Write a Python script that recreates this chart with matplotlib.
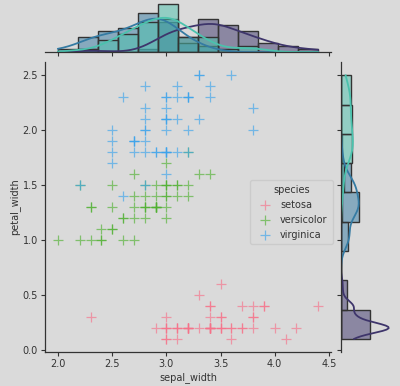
import numpy as np
import matplotlib
matplotlib.use("Agg")
import matplotlib.pyplot as plt
import seaborn as sns

# iris: sepal_width / petal_width per species
setosa_sw = [3.5, 3.0, 3.2, 3.1, 3.6, 3.9, 3.4, 3.4, 2.9, 3.1, 3.7, 3.4, 3.0, 3.0, 4.0, 4.4, 3.9,
             3.5, 3.8, 3.8, 3.4, 3.7, 3.6, 3.3, 3.4, 3.0, 3.4, 3.5, 3.4, 3.2, 3.1, 3.4, 4.1, 4.2,
             3.1, 3.2, 3.5, 3.6, 3.0, 3.4, 3.5, 2.3, 3.2, 3.5, 3.8, 3.0, 3.8, 3.2, 3.7, 3.3]
setosa_pw = [0.2, 0.2, 0.2, 0.2, 0.2, 0.4, 0.3, 0.2, 0.2, 0.1, 0.2, 0.2, 0.1, 0.1, 0.2, 0.4, 0.4,
             0.3, 0.3, 0.3, 0.2, 0.4, 0.2, 0.5, 0.2, 0.2, 0.4, 0.2, 0.2, 0.2, 0.2, 0.4, 0.1, 0.2,
             0.2, 0.2, 0.2, 0.1, 0.2, 0.2, 0.3, 0.3, 0.2, 0.6, 0.4, 0.3, 0.2, 0.2, 0.2, 0.2]
versicolor_sw = [3.2, 3.2, 3.1, 2.3, 2.8, 2.8, 3.3, 2.4, 2.9, 2.7, 2.0, 3.0, 2.2, 2.9, 2.9, 3.1, 3.0,
                 2.7, 2.2, 2.5, 3.2, 2.8, 2.5, 2.8, 2.9, 3.0, 2.8, 3.0, 2.9, 2.6, 2.4, 2.4, 2.7, 2.7,
                 3.0, 3.4, 3.1, 2.3, 3.0, 2.5, 2.6, 3.0, 2.6, 2.3, 2.7, 3.0, 2.9, 2.9, 2.5, 2.8]
versicolor_pw = [1.4, 1.5, 1.5, 1.3, 1.5, 1.3, 1.6, 1.0, 1.3, 1.4, 1.0, 1.5, 1.0, 1.4, 1.3, 1.4, 1.5,
                 1.0, 1.5, 1.1, 1.8, 1.3, 1.5, 1.2, 1.3, 1.4, 1.4, 1.7, 1.5, 1.0, 1.1, 1.0, 1.2, 1.6,
                 1.5, 1.6, 1.5, 1.3, 1.3, 1.3, 1.2, 1.4, 1.2, 1.0, 1.3, 1.2, 1.3, 1.3, 1.1, 1.3]
virginica_sw = [3.3, 2.7, 3.0, 2.9, 3.0, 3.0, 2.5, 2.9, 2.5, 3.6, 3.2, 2.7, 3.0, 2.5, 2.8, 3.2, 3.0,
                3.8, 2.6, 2.2, 3.2, 2.8, 2.8, 2.7, 3.3, 3.2, 2.8, 3.0, 2.8, 3.0, 2.8, 3.8, 2.8, 2.8,
                2.6, 3.0, 3.4, 3.1, 3.0, 3.1, 3.1, 3.1, 2.7, 3.2, 3.3, 3.0, 2.5, 3.0, 3.4, 3.0]
virginica_pw = [2.5, 1.9, 2.1, 1.8, 2.2, 2.1, 1.7, 1.8, 1.8, 2.5, 2.0, 1.9, 2.1, 2.0, 2.4, 2.3, 1.8,
                2.2, 2.3, 1.5, 2.3, 2.0, 2.0, 1.8, 2.1, 1.8, 1.8, 1.8, 2.1, 1.6, 1.9, 2.0, 2.2, 1.5,
                1.4, 2.3, 2.4, 1.8, 1.8, 2.1, 2.4, 2.3, 1.9, 2.3, 2.5, 2.3, 1.9, 2.0, 2.3, 1.8]

species = ["setosa", "versicolor", "virginica"]
sw = [np.array(setosa_sw), np.array(versicolor_sw), np.array(virginica_sw)]
pw = [np.array(setosa_pw), np.array(versicolor_pw), np.array(virginica_pw)]

bg = "#dadada"
ink = "#333333"
plt.rcParams.update({
    "figure.facecolor": bg, "axes.facecolor": bg, "axes.edgecolor": ink,
    "text.color": ink, "axes.labelcolor": ink, "xtick.color": ink, "ytick.color": ink,
    "font.size": 7, "axes.linewidth": 0.9,
    "xtick.major.size": 3, "ytick.major.size": 3,
    "xtick.major.pad": 2, "ytick.major.pad": 2, "axes.labelpad": 2,
})

scatter_cols = sns.color_palette("husl", 3)
hist_cols = sns.color_palette("mako", 3)

fig = plt.figure(figsize=(4, 3.86), dpi=100)
ax = fig.add_axes([0.1125, 0.088, 0.715, 0.751])
ax_x = fig.add_axes([0.1125, 0.865, 0.715, 0.13], sharex=ax)
ax_y = fig.add_axes([0.8525, 0.088, 0.1425, 0.751], sharey=ax)

for name, x, y, c in zip(species, sw, pw, scatter_cols):
    ax.scatter(x, y, marker="+", s=55, color=c, alpha=0.65, linewidths=0.9, label=name)

all_sw = np.concatenate(sw)
all_pw = np.concatenate(pw)
bins_x = np.histogram_bin_edges(all_sw, bins="auto")
bins_y = np.histogram_bin_edges(all_pw, bins="auto")


def kde(data, grid):
    bw = np.std(data, ddof=1) * len(data) ** (-1 / 5)
    z = (grid[:, None] - data[None, :]) / bw
    return np.exp(-0.5 * z ** 2).sum(axis=1) / (len(data) * bw * np.sqrt(2 * np.pi))


gx = np.linspace(all_sw.min(), all_sw.max(), 200)
gy = np.linspace(all_pw.min(), all_pw.max(), 200)
wx = bins_x[1] - bins_x[0]
wy = bins_y[1] - bins_y[0]
for x, y, c in zip(sw, pw, hist_cols):
    ax_x.hist(x, bins=bins_x, facecolor=(*c, 0.5), edgecolor=ink, linewidth=1)
    ax_x.plot(gx, kde(x, gx) * len(x) * wx, color=c, lw=1.3)
    ax_y.hist(y, bins=bins_y, orientation="horizontal", facecolor=(*c, 0.5), edgecolor=ink, linewidth=1)
    ax_y.plot(kde(y, gy) * len(y) * wy, gy, color=c, lw=1.3)

ax_x.set_ylim(bottom=0)
ax_y.set_xlim(0, 80)

ax.set_xticks([2.0, 2.5, 3.0, 3.5, 4.0, 4.5])
ax.set_yticks([0.0, 0.5, 1.0, 1.5, 2.0, 2.5])
ax.set_xlabel("sepal_width")
ax.set_ylabel("petal_width")
for s in ["top", "right"]:
    ax.spines[s].set_visible(False)

for s in ["top", "right", "left"]:
    ax_x.spines[s].set_visible(False)
ax_x.tick_params(labelbottom=False, left=False, labelleft=False)
for s in ["top", "right", "bottom"]:
    ax_y.spines[s].set_visible(False)
ax_y.tick_params(labelleft=False, bottom=False, labelbottom=False)

leg = ax.legend(title="species", loc="upper left", bbox_to_anchor=(0.7, 0.61),
                facecolor=bg, edgecolor="#c8c8c8", fontsize=7, title_fontsize=7,
                handletextpad=0.6, borderpad=0.5)

fig.savefig("out.png", dpi=100, facecolor=bg)
